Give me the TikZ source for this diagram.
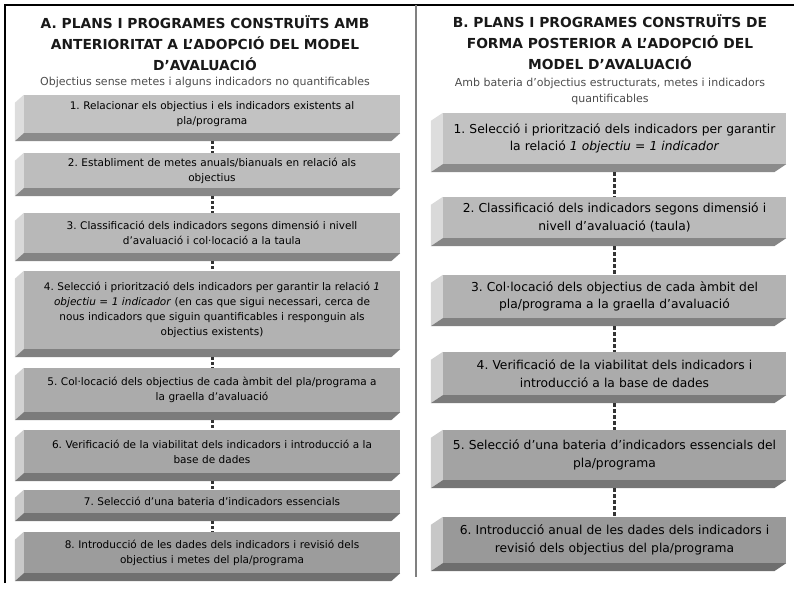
\documentclass[tikz,border=0pt]{standalone}
\usepackage{fontspec}
\setmainfont{DejaVu Sans}
\frenchspacing

\begin{document}
\begin{tikzpicture}[x=1pt, y=-1pt,
                title/.style={align=center, inner sep=0, text=black!90,
                    font=\bfseries\fontsize{13.8}{21}\selectfont},
                subtitle/.style={align=center, inner sep=0, text=black!70,
                    font=\fontsize{11}{16}\selectfont},
                stepa/.style={align=center, inner sep=0, fill=black!#1,
                    text width=376pt, font=\fontsize{10.5}{15}\selectfont},
                stepb/.style={align=center, inner sep=0, fill=black!#1,
                    text width=343pt, font=\fontsize{12.3}{17.5}\selectfont},
                dots/.style={line width=3pt, dash pattern=on 3pt off 2pt, black!80}]
            \useasboundingbox (0,0) rectangle (794,589);
            \draw [line width=1.2pt] (5,583) -- (5,5) -- (794,5);
            \draw [line width=1.8pt, black!50] (416,5) -- (416,577);

            \node [title] (ta) at (205,43) {A. PLANS I PROGRAMES CONSTRUÏTS AMB\\ANTERIORITAT A L’ADOPCIÓ DEL MODEL\\D’AVALUACIÓ};
            \node [subtitle] (sa) at (205,82) {Objectius sense metes i alguns indicadors no quantificables};
            \node [title] (tb) at (610,42) {B. PLANS I PROGRAMES CONSTRUÏTS DE\\FORMA POSTERIOR A L’ADOPCIÓ DEL\\MODEL D’AVALUACIÓ};
            \node [subtitle] (sb) at (610,91) {Amb bateria d’objectius estructurats, metes i indicadors\\quantificables};

            \node [stepa=24, minimum height=38pt] (a1) at (212,114) {1. Relacionar els objectius i els indicadors existents al\\pla/programa};
            \node [stepa=26, minimum height=35pt] (a2) at (212,170.5) {2. Establiment de metes anuals/bianuals en relació als\\objectius};
            \node [stepa=28, minimum height=40pt] (a3) at (212,233) {3. Classificació dels indicadors segons dimensió i nivell\\d’avaluació i col·locació a la taula};
            \node [stepa=30, minimum height=78pt] (a4) at (212,310) {4. Selecció i priorització dels indicadors per garantir la relació \textit{1}\\\textit{objectiu = 1 indicador} (en cas que sigui necessari, cerca de\\nous indicadors que siguin quantificables i responguin als\\objectius existents)};
            \node [stepa=33, minimum height=44pt] (a5) at (212,390) {5. Col·locació dels objectius de cada àmbit del pla/programa a\\la graella d’avaluació};
            \node [stepa=35, minimum height=43pt] (a6) at (212,451.5) {6. Verificació de la viabilitat dels indicadors i introducció a la\\base de dades};
            \node [stepa=37, minimum height=23pt] (a7) at (212,501.5) {7. Selecció d’una bateria d’indicadors essencials};
            \node [stepa=39, minimum height=41pt] (a8) at (212,552.5) {8. Introducció de les dades dels indicadors i revisió dels\\objectius i metes del pla/programa};

            \node [stepb=24, minimum height=51pt] (b1) at (614.5,138.5) {1. Selecció i priorització dels indicadors per garantir\\la relació \textit{1 objectiu = 1 indicador}};
            \node [stepb=27, minimum height=41pt] (b2) at (614.5,217.5) {2. Classificació dels indicadors segons dimensió i\\nivell d’avaluació (taula)};
            \node [stepb=30, minimum height=43pt] (b3) at (614.5,296.5) {3. Col·locació dels objectius de cada àmbit del\\pla/programa a la graella d’avaluació};
            \node [stepb=33, minimum height=43pt] (b4) at (614.5,373.5) {4. Verificació de la viabilitat dels indicadors i\\introducció a la base de dades};
            \node [stepb=36, minimum height=50pt] (b5) at (614.5,455) {5. Selecció d’una bateria d’indicadors essencials del\\pla/programa};
            \node [stepb=40, minimum height=46pt] (b6) at (614.5,540) {6. Introducció anual de les dades dels indicadors i\\revisió dels objectius del pla/programa};

            \foreach \n/\s/\d in {a1/24/9, a2/26/9, a3/28/9, a4/30/9, a5/33/9, a6/35/9, a7/37/9, a8/39/9,
                                  b1/24/12, b2/27/12, b3/30/12, b4/33/12, b5/36/12, b6/40/12} {
                \fill [black!\s!white!55] (\n.north west) -- ++(-\d,8) -- ([shift={(-\d,8)}]\n.south west) -- (\n.south west) -- cycle;
                \fill [black!\s!white!72!black] (\n.south west) -- (\n.south east) -- ++(-\d,8) -- ([shift={(-\d,8)}]\n.south west) -- cycle;
            }

            \foreach \u/\v in {a1/a2, a2/a3, a3/a4, a4/a5, a5/a6, a6/a7, a7/a8}
                \draw [dots] ([yshift=-8pt]\u.south) -- (\v.north);
            \foreach \u/\v in {b1/b2, b2/b3, b3/b4, b4/b5, b5/b6}
                \draw [dots, line width=3.5pt, dash pattern=on 3.5pt off 2.5pt] ([yshift=-8pt]\u.south) -- (\v.north);
        \end{tikzpicture}
\end{document}
